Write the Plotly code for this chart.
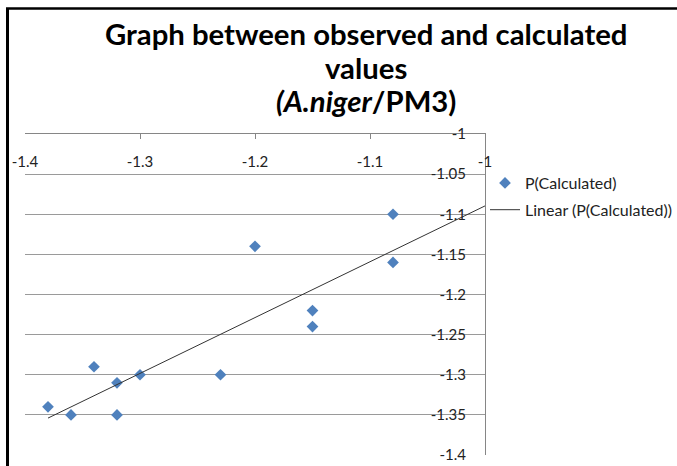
import numpy as np
import plotly.graph_objects as go

# Data
x_obs = [-1.38, -1.36, -1.34, -1.32, -1.32, -1.30, -1.23, -1.20, -1.15, -1.15, -1.08, -1.08]
y_calc = [-1.34, -1.35, -1.29, -1.31, -1.35, -1.30, -1.30, -1.14, -1.22, -1.24, -1.10, -1.16]

x_tickvals = [-1.4, -1.3, -1.2, -1.1, -1.0]
x_ticktext = ["-1.4", "-1.3", "-1.2", "-1.1", "-1"]
y_tickvals = [-1.4, -1.35, -1.3, -1.25, -1.2, -1.15, -1.1, -1.05, -1.0]
y_ticktext = ["-1.4", "-1.35", "-1.3", "-1.25", "-1.2", "-1.15", "-1.1", "-1.05", "-1"]

series_name = "P(Calculated)"
trend_name = "Linear (P(Calculated))"
title_lines = ["<b>Graph between observed and calculated</b>", "<b>values</b>",
               "<b><i>(A.niger</i>/PM3)</b>"]

W, H = 677, 466
L, R, T, B = 25, 485, 134, 455  # plot area in pixels


def px(xp):
    return (xp - L) / (R - L)


def py(yp):
    return (B - yp) / (B - T)


# Linear trendline (forward forecast to the axis end)
slope, intercept = np.polyfit(x_obs, y_calc, 1)
tx = [min(x_obs), -1.0]
ty = [slope * v + intercept for v in tx]

FONT = "Lato"
TXT = "#222222"

fig = go.Figure()
fig.add_trace(go.Scatter(
    x=x_obs, y=y_calc, mode="markers", name=series_name, legendgroup="a",
    marker=dict(symbol="diamond", size=9, color="#4F81BD"),
))
fig.add_trace(go.Scatter(
    x=tx, y=ty, mode="lines", name=trend_name, legendgroup="b",
    line=dict(color="#333333", width=1),
))

fig.update_layout(
    width=W, height=H,
    margin=dict(l=L, r=W - R, t=T, b=H - B, pad=0, autoexpand=False),
    paper_bgcolor="white", plot_bgcolor="white",
    font=dict(family=FONT, size=15, color=TXT),
    legend=dict(x=1.0, xanchor="left", y=py(166), yanchor="top",
                font=dict(family=FONT, size=16, color=TXT),
                tracegroupgap=3, bgcolor="rgba(0,0,0,0)"),
    xaxis=dict(range=[-1.4, -1.0], side="top", tickvals=x_tickvals, ticktext=x_ticktext,
               ticklabelposition="inside", ticklabeloverflow="allow", automargin=False,
               ticks="inside", ticklen=5, tickcolor="#868686",
               showline=True, linecolor="#868686", linewidth=1,
               showgrid=False, zeroline=False, ticklabelstandoff=17,
               tickfont=dict(family=FONT, size=15, color=TXT)),
    yaxis=dict(range=[-1.4, -1.0], side="right", tickvals=y_tickvals, ticktext=y_ticktext,
               ticklabelposition="inside", ticklabeloverflow="allow", automargin=False,
               ticks="", showline=True, linecolor="#868686", linewidth=1,
               showgrid=True, gridcolor="#9a9a9a", gridwidth=1, zeroline=False,
               ticklabelstandoff=19,
               tickfont=dict(family=FONT, size=15, color=TXT)),
)

# Title lines
for txt, yc in zip(title_lines, [34, 67, 100]):
    fig.add_annotation(text=txt, x=px(366), y=py(yc), xref="paper", yref="paper",
                       xanchor="center", yanchor="middle", showarrow=False,
                       font=dict(family=FONT, size=29.3, color="#000000"))

# Chart frame (top and left border)
fig.add_shape(type="line", xref="paper", yref="paper", x0=px(7.5), x1=px(7.5),
              y0=py(8), y1=py(470), line=dict(color="black", width=3))
fig.add_shape(type="line", xref="paper", yref="paper", x0=px(6), x1=px(680),
              y0=py(8.5), y1=py(8.5), line=dict(color="black", width=2.5))

fig.write_html("out.html", config={"displayModeBar": False},
               post_script="document.body.style.margin='0';document.body.style.overflow='hidden';")
